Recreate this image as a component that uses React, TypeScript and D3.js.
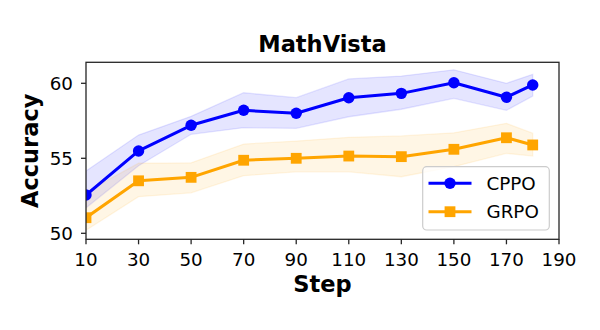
import React from "react";
import * as d3 from "d3";

const steps = [10, 30, 50, 70, 90, 110, 130, 150, 170, 180];
const cppo = [52.55, 55.49, 57.2, 58.2, 58.0, 59.04, 59.33, 60.04, 59.07, 59.89];
const cppoUpper = [54.15, 56.55, 57.8, 59.37, 59.04, 60.29, 60.48, 60.9, 60.0, 60.6];
const cppoLower = [51.7, 54.5, 56.6, 57.04, 57.0, 57.77, 58.27, 59.0, 58.2, 59.15];
const grpo = [51.04, 53.5, 53.73, 54.87, 55.0, 55.15, 55.11, 55.6, 56.37, 55.89];
const grpoUpper = [52.75, 54.67, 54.7, 55.95, 56.15, 56.4, 56.49, 56.7, 57.33, 56.67];
const grpoLower = [50.2, 52.44, 52.7, 53.84, 54.1, 54.1, 53.77, 54.44, 55.33, 55.15];
const xTicks = [10, 30, 50, 70, 90, 110, 130, 150, 170, 190];
const yTicks = [50, 55, 60];

const W = 600, H = 330;
const L = 86, R = 559, T = 62.3, B = 239.3;
const FONT = "DejaVu Sans, sans-serif";

export default function App() {
  const x = d3.scaleLinear().domain([10, 190]).range([L, R]);
  const y = d3.scaleLinear().domain([50, 55]).range([233.3, 158.3]);

  const line = d3.line<number>().x((_, i) => x(steps[i])).y((d) => y(d));
  const area = (up: number[], lo: number[]) =>
    d3
      .area<number>()
      .x((_, i) => x(steps[i]))
      .y0((_, i) => y(lo[i]))
      .y1((_, i) => y(up[i]))(steps);

  const series = [
    { name: "CPPO", vals: cppo, up: cppoUpper, lo: cppoLower, color: "#0000ff", marker: "circle" },
    { name: "GRPO", vals: grpo, up: grpoUpper, lo: grpoLower, color: "#ffa500", marker: "square" },
  ];

  const marker = (kind: string, cx: number, cy: number, color: string, key: any) =>
    kind === "circle" ? (
      <circle key={key} cx={cx} cy={cy} r={5.7} fill={color} />
    ) : (
      <rect key={key} x={cx - 5.4} y={cy - 5.4} width={10.8} height={10.8} fill={color} />
    );

  return (
    <svg width={W} height={H} style={{ position: "absolute", left: 0, top: 0, background: "#fff" }}>
      <defs>
        <clipPath id="plot">
          <rect x={L} y={T} width={R - L} height={B - T} />
        </clipPath>
      </defs>
      <g clipPath="url(#plot)">
        {series.map((s) => (
          <path
            key={"a" + s.name}
            d={area(s.up, s.lo) || ""}
            fill={s.color}
            fillOpacity={0.1}
            stroke={s.color}
            strokeOpacity={0.1}
            strokeWidth={1.3}
          />
        ))}
        {series.map((s) => (
          <g key={"l" + s.name}>
            <path d={line(s.vals) || ""} fill="none" stroke={s.color} strokeWidth={3} strokeLinejoin="round" />
            {s.vals.map((v, i) => marker(s.marker, x(steps[i]), y(v), s.color, i))}
          </g>
        ))}
      </g>
      <rect x={L} y={T} width={R - L} height={B - T} fill="none" stroke="#262626" strokeWidth={1.3} />
      {xTicks.map((t) => (
        <g key={"x" + t}>
          <line x1={x(t)} x2={x(t)} y1={B} y2={B + 5} stroke="#262626" strokeWidth={1.3} />
          <text x={x(t)} y={266} textAnchor="middle" fontFamily={FONT} fontSize={18.3} fill="#000">
            {t}
          </text>
        </g>
      ))}
      {yTicks.map((t) => (
        <g key={"y" + t}>
          <line x1={L - 5} x2={L} y1={y(t)} y2={y(t)} stroke="#262626" strokeWidth={1.3} />
          <text x={73} y={y(t) + 6.6} textAnchor="end" fontFamily={FONT} fontSize={18.3} fill="#000">
            {t}
          </text>
        </g>
      ))}
      <text x={(L + R) / 2} y={52} textAnchor="middle" fontFamily={FONT} fontWeight="bold" fontSize={22.5}>
        MathVista
      </text>
      <text x={(L + R) / 2} y={292} textAnchor="middle" fontFamily={FONT} fontWeight="bold" fontSize={22.5}>
        Step
      </text>
      <text
        transform={`translate(38,${(T + B) / 2}) rotate(-90)`}
        textAnchor="middle"
        fontFamily={FONT}
        fontWeight="bold"
        fontSize={22.5}
      >
        Accuracy
      </text>
      <g>
        <rect x={422.7} y={166.7} width={126.6} height={63.3} rx={4} fill="#fff" fillOpacity={0.8} stroke="#cccccc" strokeWidth={1.2} />
        {series.map((s, i) => {
          const ly = 183.3 + i * 28.4;
          return (
            <g key={"lg" + s.name}>
              <line x1={428.5} x2={471.5} y1={ly} y2={ly} stroke={s.color} strokeWidth={3} />
              {marker(s.marker, 450, ly, s.color, 0)}
              <text x={486.5} y={ly + 6.6} fontFamily={FONT} fontSize={18.3} fill="#000">
                {s.name}
              </text>
            </g>
          );
        })}
      </g>
    </svg>
  );
}
